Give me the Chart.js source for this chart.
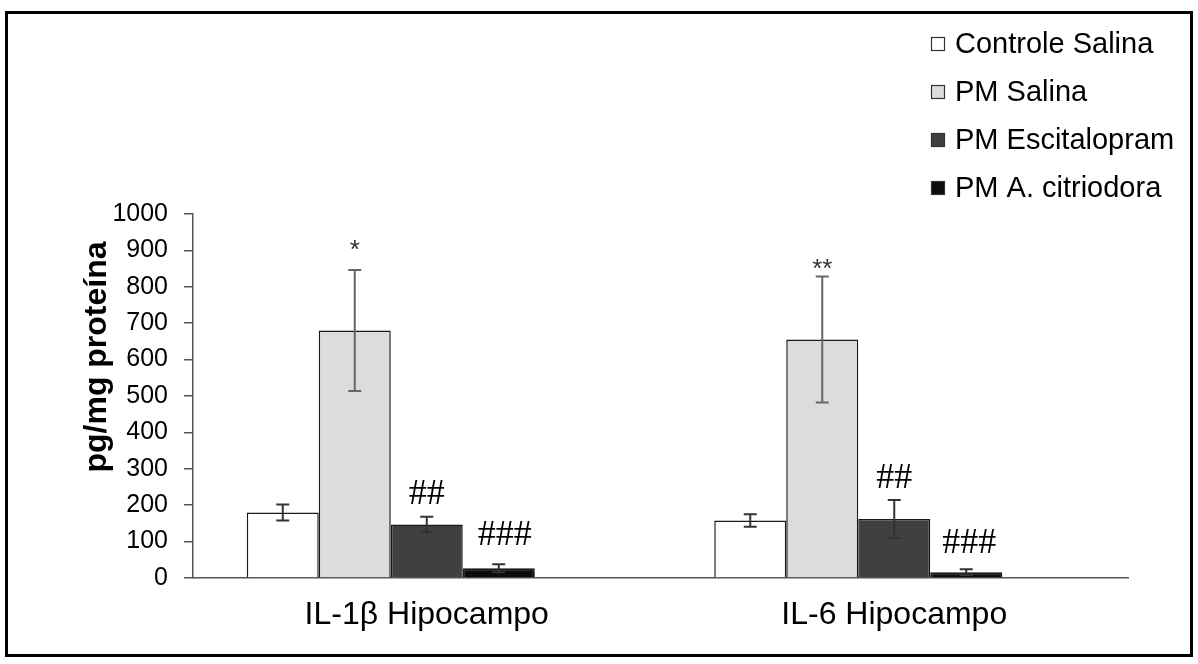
<!DOCTYPE html>
<html>
<head>
<meta charset="utf-8">
<script src="https://cdn.jsdelivr.net/npm/chart.js@4.4.1/dist/chart.umd.min.js"></script>
<style>
  body { margin: 0; background: #fff; }
  #wrap { width: 1198px; height: 664px; }
</style>
</head>
<body>
<div id="wrap"><canvas id="chart" width="1198" height="664"></canvas></div>
<script>
const categories = ['IL-1β Hipocampo', 'IL-6 Hipocampo'];
const groups = ['Controle Salina', 'PM Salina', 'PM Escitalopram', 'PM A. citriodora'];

const controleSalina = [180, 158];
const pmSalina = [680, 655];
const pmEscitalopram = [147, 162];
const pmCitriodora = [27, 16];

const errControle = [22, 17];
const errPmSalina = [166, 173];
const errEscitalopram = [21, 52];
const errCitriodora = [11, 8];

const yTicks = [0, 100, 200, 300, 400, 500, 600, 700, 800, 900, 1000];

// significance marks: dataset, category, text
const marks = [
    { ds: 1, cat: 0, text: '*' },
    { ds: 1, cat: 1, text: '**' },
    { ds: 2, cat: 0, text: '##' },
    { ds: 3, cat: 0, text: '###' },
    { ds: 2, cat: 1, text: '##' },
    { ds: 3, cat: 1, text: '###' }
];
const markLift = [22, 10, 22, 29, 22, 26];
const markShift = [0, 0, 0, 6, 0, 3];

const values = [controleSalina, pmSalina, pmEscitalopram, pmCitriodora];
const errors = [errControle, errPmSalina, errEscitalopram, errCitriodora];
const fills = ['#ffffff', '#dcdcdc', '#404040', '#0c0c0c'];
const errColors = ['#333333', '#666666', '#333333', '#333333'];

const extras = {
    id: 'extras',
    beforeDatasetDraw(chart, args) {
        if (args.index === 3) {
            const ctx = chart.ctx;
            ctx.save();
            ctx.shadowColor = 'rgba(0,0,0,0.45)';
            ctx.shadowBlur = 3;
            ctx.shadowOffsetX = 1;
            ctx.shadowOffsetY = 2;
        }
    },
    afterDatasetDraw(chart, args) {
        if (args.index === 3) chart.ctx.restore();
    },
    afterDatasetsDraw(chart) {
        const ctx = chart.ctx;
        const y = chart.scales.y;
        ctx.save();
        // error bars
        errors.forEach((errs, d) => {
            const meta = chart.getDatasetMeta(d);
            errs.forEach((e, i) => {
                const x = meta.data[i].x;
                const v = values[d][i];
                const top = y.getPixelForValue(v + e);
                const bot = y.getPixelForValue(v - e);
                ctx.strokeStyle = errColors[d];
                ctx.lineWidth = 2;
                ctx.beginPath();
                ctx.moveTo(x, top); ctx.lineTo(x, bot);
                ctx.moveTo(x - 6.5, top); ctx.lineTo(x + 6.5, top);
                ctx.moveTo(x - 6.5, bot); ctx.lineTo(x + 6.5, bot);
                ctx.stroke();
            });
        });
        // marks
        ctx.textAlign = 'center';
        ctx.textBaseline = 'middle';
        marks.forEach((m, k) => {
            const x = chart.getDatasetMeta(m.ds).data[m.cat].x + markShift[k];
            const top = y.getPixelForValue(values[m.ds][m.cat] + errors[m.ds][m.cat]);
            if (m.text.startsWith('*')) {
                ctx.font = '26px "Liberation Sans", Arial, sans-serif';
                ctx.fillStyle = '#333';
                ctx.fillText(m.text, x, top - markLift[k] + 3);
            } else {
                ctx.font = '36px "Liberation Serif", "Times New Roman", serif';
                ctx.fillStyle = '#000';
                ctx.fillText(m.text, x, top - markLift[k]);
            }
        });
        ctx.restore();
    },
    afterDraw(chart) {
        const ctx = chart.ctx;
        ctx.save();
        // legend
        ctx.font = '29px "Liberation Sans", Arial, sans-serif';
        ctx.textAlign = 'left';
        ctx.textBaseline = 'middle';
        groups.forEach((g, i) => {
            const cy = 44 + i * 48;
            ctx.fillStyle = fills[i];
            ctx.fillRect(931, cy - 7, 14, 14);
            ctx.strokeStyle = '#333';
            ctx.lineWidth = 1.2;
            ctx.strokeRect(931.5, cy - 6.5, 13, 13);
            ctx.fillStyle = '#000';
            ctx.fillText(g, 955, cy + 1);
        });
        // y title
        ctx.translate(97, 357);
        ctx.rotate(-Math.PI / 2);
        ctx.textAlign = 'center';
        ctx.font = 'bold 32px "Liberation Sans", Arial, sans-serif';
        ctx.fillText('pg/mg proteína', 0, 0);
        ctx.restore();
        // frame
        ctx.save();
        ctx.strokeStyle = '#000';
        ctx.lineWidth = 3;
        ctx.strokeRect(6.5, 12.5, 1185, 643);
        ctx.restore();
    }
};

window.onload = () => {
    const ctx = document.getElementById('chart').getContext('2d');
    const datasets = groups.map((g, i) => ({
        label: g,
        data: values[i],
        backgroundColor: fills[i],
        borderColor: '#1a1a1a',
        borderWidth: i === 3 ? 2 : 1.5,
        categoryPercentage: 0.77,
        barPercentage: 1.0
    }));
    // empty fifth slot, as in the original layout
    datasets.push({ label: '', data: [null, null], categoryPercentage: 0.77, barPercentage: 1.0 });

    new Chart(ctx, {
        type: 'bar',
        data: { labels: categories, datasets: datasets },
        options: {
            responsive: false,
            animation: false,
            layout: { padding: { left: 0, right: 70, top: 214, bottom: 0 } },
            plugins: { legend: { display: false }, tooltip: { enabled: false } },
            scales: {
                x: {
                    grid: { drawOnChartArea: false, drawTicks: false },
                    border: { color: '#555', width: 1.5 },
                    ticks: {
                        color: '#000',
                        padding: 18,
                        font: { family: '"Liberation Sans", Arial, sans-serif', size: 32 }
                    },
                    afterFit: (axis) => { axis.height = 86; }
                },
                y: {
                    min: 0,
                    max: 1000,
                    afterBuildTicks: (axis) => { axis.ticks = yTicks.map(v => ({ value: v })); },
                    grid: { drawOnChartArea: false, drawTicks: true, tickLength: 9, color: '#555', lineWidth: 1.5 },
                    border: { color: '#555', width: 1.5 },
                    ticks: {
                        color: '#000',
                        padding: 16,
                        callback: (v) => String(v),
                        font: { family: '"Liberation Sans", Arial, sans-serif', size: 25 }
                    },
                    afterFit: (axis) => { axis.width = 193; }
                }
            }
        },
        plugins: [extras]
    });
};
</script>
</body>
</html>
